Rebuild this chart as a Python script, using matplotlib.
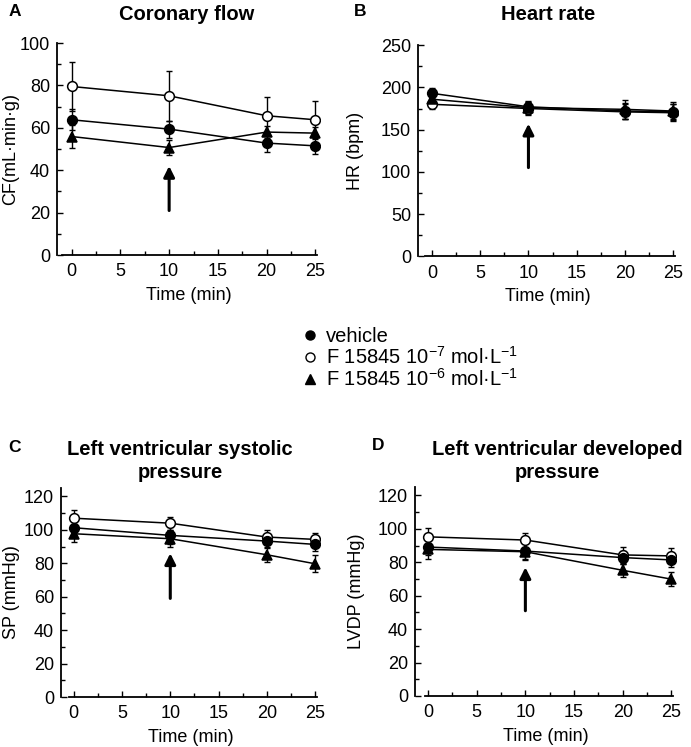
import matplotlib
matplotlib.use("Agg")
import matplotlib.pyplot as plt
from matplotlib.lines import Line2D
from matplotlib.ticker import MultipleLocator

plt.rcParams['font.family'] = ['Liberation Sans', 'DejaVu Sans']
plt.rcParams['mathtext.fontset'] = 'custom'
plt.rcParams['mathtext.rm'] = 'Liberation Sans'
plt.rcParams['mathtext.it'] = 'Liberation Sans'

time = [0, 10, 20, 25]
labels = ['vehicle', 'F 15845 10$^{-7}$ mol·L$^{-1}$', 'F 15845 10$^{-6}$ mol·L$^{-1}$']

# coronary flow
cf_veh = [63.8, 59.4, 52.8, 51.5]
cf_veh_err = [5, 4, 4, 4]
cf_low = [79.5, 75.1, 65.7, 63.8]
cf_low_err = [11.4, 11.7, 8.7, 8.7]
cf_high = [55.9, 50.7, 58, 57.5]
cf_high_err = [5.5, 3.5, 3, 3]

# heart rate
hr_veh = [193, 177, 172, 171]
hr_veh_err = [6, 7, 10, 9]
hr_low = [180, 175, 171, 170]
hr_low_err = [6, 8, 9, 10]
hr_high = [186, 176, 174, 172]
hr_high_err = [8, 7, 11, 11]

# systolic pressure
sp_veh = [101.3, 96.7, 93.3, 91.3]
sp_veh_err = [5, 5, 4, 4]
sp_low = [107, 104, 95.7, 94.3]
sp_low_err = [5, 4, 4, 4]
sp_high = [97.7, 94.7, 85.1, 79.7]
sp_high_err = [5, 5, 4.5, 5]

# developed pressure
lvdp_veh = [89.1, 86.7, 82.8, 81.4]
lvdp_veh_err = [5, 5, 4, 4]
lvdp_low = [95.2, 93.3, 84.4, 83.8]
lvdp_low_err = [5, 4.5, 5, 4.5]
lvdp_high = [87.7, 86.3, 75.2, 69.9]
lvdp_high_err = [6, 5, 4, 4]

arrows = {'A': (21, 42), 'B': (105, 157), 'C': (59, 86), 'D': (51, 77)}

fig = plt.figure(figsize=(6.91, 7.47), dpi=100)


def panel(rect, xlim, xstart, ylim, ymaj, ymin, ylabel, ylabx, series, arrow, ytop=None):
    ax = fig.add_axes(rect)
    for y, e, mfc, mk in series:
        ax.errorbar(time, y, yerr=e, fmt='none', ecolor='black', elinewidth=1,
                    capsize=2.5, capthick=1, zorder=2)
        ax.plot(time, y, color='black', lw=1.1, marker=mk, markersize=7,
                markerfacecolor=mfc, markeredgecolor='black', markeredgewidth=1.1, zorder=3)
    ax.annotate('', xy=(10, arrow[1]), xytext=(10, arrow[0]),
                arrowprops=dict(arrowstyle='-|>', color='black', lw=2.2,
                                mutation_scale=16, shrinkA=0, shrinkB=0))
    ax.set_xlim(*xlim)
    ax.set_ylim(*ylim)
    for s in ['top', 'right']:
        ax.spines[s].set_visible(False)
    ax.spines['bottom'].set_bounds(xstart, 25.2)
    if ytop is not None:
        ax.spines['left'].set_bounds(0, ytop)
    for s in ['left', 'bottom']:
        ax.spines[s].set_linewidth(1.3)
    ax.xaxis.set_major_locator(MultipleLocator(5))
    ax.xaxis.set_minor_locator(MultipleLocator(2.5))
    ax.yaxis.set_major_locator(MultipleLocator(ymaj))
    ax.yaxis.set_minor_locator(MultipleLocator(ymin))
    ax.tick_params(which='both', direction='in', labelsize=13, width=1)
    ax.tick_params(which='major', length=4)
    ax.tick_params(which='minor', length=3)
    ax.tick_params(axis='x', pad=6)
    ax.tick_params(axis='y', pad=5)
    ax.set_xlabel('Time (min)', fontsize=13, labelpad=5)
    ax.set_ylabel(ylabel, fontsize=13)
    ax.yaxis.set_label_coords(ylabx, 0.5)
    return ax


def ser(v, ve, l, le, h, he):
    return [(l, le, 'white', 'o'), (v, ve, 'black', 'o'), (h, he, 'black', '^')]


panel([0.0825, 0.6586, 0.381, 0.2838], (-1.5, 25.5), -1.0, (0, 100), 20, 10,
      'CF(mL·min·g)', -0.144, ser(cf_veh, cf_veh_err, cf_low, cf_low_err, cf_high, cf_high_err),
      arrows['A'])
panel([0.605, 0.657, 0.376, 0.2825], (-1.45, 25.5), -0.7, (0, 250), 50, 25,
      'HR (bpm)', -0.208, ser(hr_veh, hr_veh_err, hr_low, hr_low_err, hr_high, hr_high_err),
      arrows['B'])
panel([0.0883, 0.0669, 0.375, 0.2797], (-1.3, 25.5), -0.5, (0, 125), 20, 10,
      'SP (mmHg)', -0.158, ser(sp_veh, sp_veh_err, sp_low, sp_low_err, sp_high, sp_high_err),
      arrows['C'])
panel([0.6006, 0.0683, 0.378, 0.2797], (-1.34, 25.5), -0.3, (0, 125), 20, 10,
      'LVDP (mmHg)', -0.19, ser(lvdp_veh, lvdp_veh_err, lvdp_low, lvdp_low_err, lvdp_high, lvdp_high_err),
      arrows['D'])

W, H = 691.0, 747.0
fig.text(187 / W, 1 - 15 / H, 'Coronary flow', ha='center', va='center', fontsize=14.5, fontweight='bold')
fig.text(548 / W, 1 - 15 / H, 'Heart rate', ha='center', va='center', fontsize=14.5, fontweight='bold')
fig.text(180 / W, 1 - 461 / H, 'Left ventricular systolic\npressure', ha='center', va='center',
         fontsize=14.5, fontweight='bold', linespacing=1.25)
fig.text(557 / W, 1 - 461 / H, 'Left ventricular developed\npressure', ha='center', va='center',
         fontsize=14.5, fontweight='bold', linespacing=1.25)
for letter, x, y in [('A', 9, 12), ('B', 354, 12), ('C', 8, 447), ('D', 372, 445)]:
    fig.text(x / W, 1 - y / H, letter, ha='left', va='center', fontsize=12.5, fontweight='bold')

handles = [Line2D([], [], ls='none', marker='o', color='black', markersize=6.5),
           Line2D([], [], ls='none', marker='o', color='black', markerfacecolor='white', markersize=6.5),
           Line2D([], [], ls='none', marker='^', color='black', markersize=6.5)]
fig.legend(handles, labels, loc='upper left', bbox_to_anchor=(304 / W, 1 - 327 / H),
           frameon=False, fontsize=14.5, handlelength=0.6, handletextpad=0.5,
           labelspacing=0.0, borderpad=0, borderaxespad=0)

fig.savefig('out.png', dpi=100)
